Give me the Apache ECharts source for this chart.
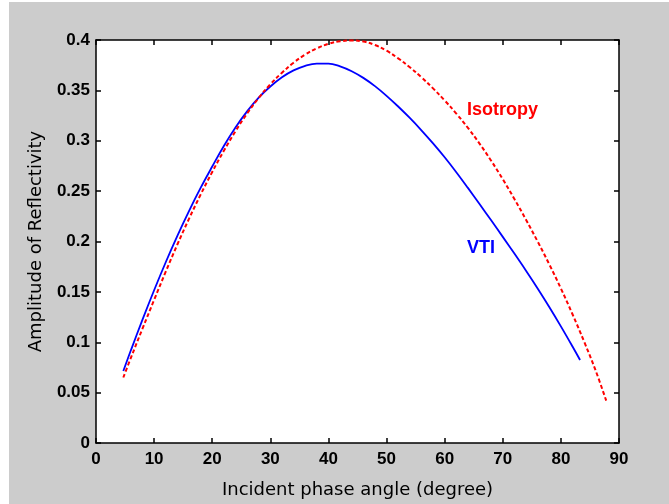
<!DOCTYPE html>
<html>
<head>
<meta charset="utf-8">
<script src="https://cdn.jsdelivr.net/npm/echarts@6/dist/echarts.min.js"></script>
<style>
html,body{margin:0;padding:0;background:#ffffff;}
#chart{width:669px;height:504px;}
</style>
</head>
<body>
<div id="chart"></div>
<script>
// ---- data ----
var vtiAngle = [4.7, 6, 8, 10, 12, 14, 16, 18, 20, 22, 24, 26, 28, 30, 32, 34, 36, 38, 40, 42, 44, 46, 48, 50, 52, 54, 56, 58, 60, 62, 64, 66, 68, 70, 72, 74, 76, 78, 80, 82, 83.3];
var vtiValue = [0.0715, 0.092, 0.1224, 0.1516, 0.1794, 0.2056, 0.2302, 0.2532, 0.2744, 0.2948, 0.3132, 0.3292, 0.3428, 0.3538, 0.363, 0.3698, 0.3744, 0.3766, 0.3766, 0.3738, 0.369, 0.3624, 0.3542, 0.3446, 0.334, 0.3226, 0.3104, 0.2974, 0.2836, 0.2688, 0.2532, 0.2372, 0.221, 0.2046, 0.188, 0.171, 0.1534, 0.135, 0.1158, 0.0958, 0.0824];

var isoAngle = [4.7, 6, 8, 10, 12, 14, 16, 18, 20, 22, 24, 26, 28, 30, 32, 34, 36, 38, 40, 42, 44, 46, 48, 50, 52, 54, 56, 58, 60, 62, 64, 66, 68, 70, 72, 74, 76, 78, 80, 82, 84, 86, 87.8];
var isoValue = [0.065, 0.0845, 0.1135, 0.142, 0.170, 0.197, 0.2225, 0.2465, 0.269, 0.290, 0.3095, 0.327, 0.3425, 0.356, 0.3675, 0.3775, 0.3855, 0.3917, 0.3962, 0.3987, 0.3995, 0.3985, 0.395, 0.3894, 0.3818, 0.373, 0.363, 0.352, 0.340, 0.327, 0.3128, 0.2972, 0.2802, 0.2618, 0.2422, 0.2216, 0.200, 0.1774, 0.1534, 0.1278, 0.1006, 0.0716, 0.042];

var xTicks = [0, 10, 20, 30, 40, 50, 60, 70, 80, 90];
var yTicks = [0, 0.05, 0.1, 0.15, 0.2, 0.25, 0.3, 0.35, 0.4];

var xName = 'Incident phase angle (degree)';
var yName = 'Amplitude of Reflectivity';
var labelIso = 'Isotropy';
var labelVti = 'VTI';

function pairs(xs, ys){ return xs.map(function(x,i){ return [x, ys[i]]; }); }

var chart = echarts.init(document.getElementById('chart'), null, {renderer:'canvas'});

var tickFont = {color:'#000', fontSize:17, fontWeight:'bold', fontFamily:'"Liberation Sans", Arial, sans-serif'};
var nameFont = {color:'#000', fontSize:18, fontFamily:'"DejaVu Sans", sans-serif'};

var option = {
  backgroundColor: '#cccccc',
  animation: false,
  grid: {left:96, top:40, width:523, height:412, show:true, backgroundColor:'#ffffff', borderWidth:0, containLabel:false},
  xAxis: [
    {type:'value', position:'bottom', min:0, max:90, interval:10,
     axisLine:{show:true, onZero:false, lineStyle:{color:'#000', width:1.5}},
     axisTick:{show:true, inside:true, length:5, lineStyle:{color:'#000', width:1.5}},
     axisLabel:Object.assign({margin:8, formatter:function(v){return xTicks.indexOf(v)>=0? String(v):'';}}, tickFont),
     splitLine:{show:false},
     name:xName, nameLocation:'middle', nameGap:38, nameTextStyle:nameFont},
    {type:'value', position:'top', min:0, max:90, interval:10,
     axisLine:{show:true, onZero:false, lineStyle:{color:'#000', width:1.5}},
     axisTick:{show:true, inside:true, length:5, lineStyle:{color:'#000', width:1.5}},
     axisLabel:{show:false}, splitLine:{show:false}}
  ],
  yAxis: [
    {type:'value', position:'left', min:0, max:0.4, interval:0.05,
     axisLine:{show:true, onZero:false, lineStyle:{color:'#000', width:1.5}},
     axisTick:{show:true, inside:true, length:5, lineStyle:{color:'#000', width:1.5}},
     axisLabel:Object.assign({margin:6, formatter:function(v){ var r=Math.round(v*100)/100; return String(r);}}, tickFont),
     splitLine:{show:false},
     name:yName, nameLocation:'middle', nameGap:51, nameTextStyle:nameFont},
    {type:'value', position:'right', min:0, max:0.4, interval:0.05,
     axisLine:{show:true, onZero:false, lineStyle:{color:'#000', width:1.5}},
     axisTick:{show:true, inside:true, length:5, lineStyle:{color:'#000', width:1.5}},
     axisLabel:{show:false}, splitLine:{show:false}}
  ],
  series: [
    {name:'VTI', type:'line', xAxisIndex:0, yAxisIndex:0, data:pairs(vtiAngle, vtiValue),
     showSymbol:false, smooth:0.4, lineStyle:{color:'#0000ff', width:1.8}, z:3},
    {name:'Isotropy', type:'line', xAxisIndex:0, yAxisIndex:0, data:pairs(isoAngle, isoValue),
     showSymbol:false, smooth:0.4, lineStyle:{color:'#ff0000', width:2, type:[4,2.5]}, z:4}
  ],
  graphic: [
    {type:'rect', left:0, top:0, shape:{width:669, height:2}, style:{fill:'#ffffff'}, silent:true},
    {type:'rect', left:0, top:0, shape:{width:9, height:504}, style:{fill:'#ffffff'}, silent:true},
    {type:'text', left:467, top:101, style:{text:labelIso, fill:'#ff0000', font:'bold 18px "Liberation Sans", Arial, sans-serif'}, z:10},
    {type:'text', left:467, top:239, style:{text:labelVti, fill:'#0000ff', font:'bold 18px "Liberation Sans", Arial, sans-serif'}, z:10}
  ]
};
chart.setOption(option);
</script>
</body>
</html>
